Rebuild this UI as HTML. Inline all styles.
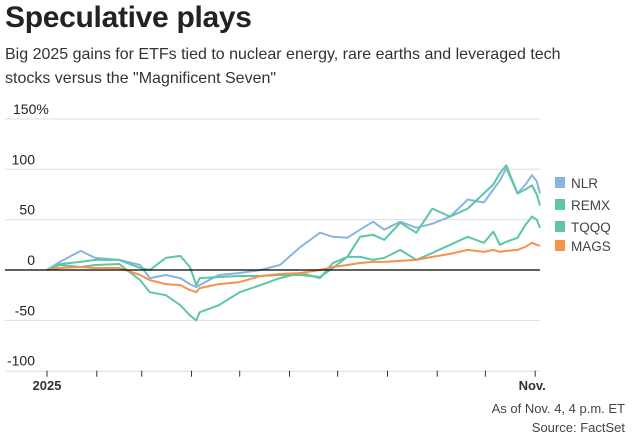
<!DOCTYPE html>
<html><head><meta charset="utf-8">
<style>
body{margin:0;width:636px;height:442px;background:#fff;font-family:"Liberation Sans",sans-serif;color:#333;overflow:hidden;position:relative}
.t{position:absolute;white-space:nowrap}
</style></head><body>
<div class="t" style="left:5px;top:1px;font-size:30px;font-weight:bold;color:#222;letter-spacing:-0.3px">Speculative plays</div>
<div class="t" style="left:5px;top:43px;font-size:16px;line-height:24px;color:#333">Big 2025 gains for ETFs tied to nuclear energy, rare earths and leveraged tech<br>stocks versus the "Magnificent Seven"</div>
<svg id="chart" width="636" height="442" style="position:absolute;left:0;top:0" font-family="Liberation Sans, sans-serif"></svg>
<div class="t" style="right:11px;top:401px;font-size:13px;color:#444">As of Nov. 4, 4 p.m. ET</div>
<div class="t" style="right:11px;top:420px;font-size:13px;color:#444">Source: FactSet</div>
<script>
const days=[0,8,21,30,45,58,64,74,83,89,93,95,107,120,133,145,158,170,178,187,195,203,210,220,230,240,251,262,272,278,282,286,293,298,302,305,307];
const nlr=[0,8,19,12,10,5,-8,-5,-8,-14,-17,-15,-5,-3,0,5,23,37,33,32,40,48,40,48,42,46,53,70,67,80,89,101,76,85,94,88,76];
const remx=[0,6,8,10,10,2,0,12,14,3,-15,-8,-7,-6,-6,-5,-5,-7,2,13,33,35,30,47,37,61,53,61,76,85,96,104,76,80,84,75,64];
const tqqq=[0,5,3,5,6,-10,-22,-25,-35,-45,-50,-42,-35,-22,-15,-8,-3,-8,7,13,13,10,12,20,10,17,25,33,27,38,25,28,32,45,53,50,42];
const mags=[0,2,3,2,2,-5,-10,-14,-15,-20,-22,-18,-14,-12,-6,-4,-3,0,3,5,7,8,8,9,10,13,16,20,18,20,18,19,20,23,27,25,24];
const yTicks=[150,100,50,0,-50,-100];
const yTickLabels=["150%","100","50","0","-50","-100"];
const monthDays=[0,31,59,90,120,151,181,212,243,273,304];
const seriesNames=["NLR","REMX","TQQQ","MAGS"];
const seriesColors=["#8ab4df","#5cc6a6","#5cc6a6","#f7924c"];
const svg=document.getElementById('chart');
const NS='http://www.w3.org/2000/svg';
const X=d=>47+d*(493/307);
const Y=v=>270-v*1.007;
function mk(tag,attrs){const e=document.createElementNS(NS,tag);for(const k in attrs)e.setAttribute(k,attrs[k]);svg.appendChild(e);return e;}
yTicks.forEach((v,i)=>{
  if(v!==0&&v!==-100){const g=mk('line',{x1:5,x2:540,y1:Y(v),y2:Y(v),stroke:'#dedede','stroke-width':1});
  
  }
  const t=mk('text',{x:v===150?13:35,y:Y(v)-5,'font-size':14,fill:'#222','text-anchor':v===150?'start':'end'});
  t.textContent=yTickLabels[i];
  
  
});
const ax=mk('line',{x1:5,x2:540,y1:Y(-100)+0.5,y2:Y(-100)+0.5,stroke:'#dedede','stroke-width':1});


monthDays.forEach(d=>{const l=mk('line',{x1:X(d),x2:X(d),y1:Y(-100),y2:Y(-100)+6,stroke:'#333','stroke-width':1});

});
const t1=mk('text',{x:X(0),y:390,'font-size':13,'font-weight':'bold','text-anchor':'middle',fill:'#333'});t1.textContent='2025';


const t2=mk('text',{x:X(304)-3,y:390,'font-size':13,'font-weight':'bold','text-anchor':'middle',fill:'#333'});t2.textContent='Nov.';


[nlr,remx,tqqq,mags].forEach((arr,i)=>{
  const d=arr.map((v,j)=>(j?'L':'M')+X(days[j]).toFixed(1)+','+Y(v).toFixed(1)).join('');
  const p=mk('path',{d:d,fill:'none',stroke:seriesColors[i],'stroke-width':2,'stroke-linejoin':'round'});
  
  
});
const zl=mk('line',{x1:5,x2:540,y1:Y(0),y2:Y(0),stroke:'#000','stroke-width':1.2});


seriesNames.forEach((n,i)=>{
  const y=[183,205,227,246][i];
  const r=mk('rect',{x:555,y:y-6,width:10,height:11,fill:seriesColors[i]});
  
  
  const t=mk('text',{x:571,y:y+5,'font-size':13.5,fill:'#444'});t.textContent=n;
  
  
});
</script>
</body></html>
